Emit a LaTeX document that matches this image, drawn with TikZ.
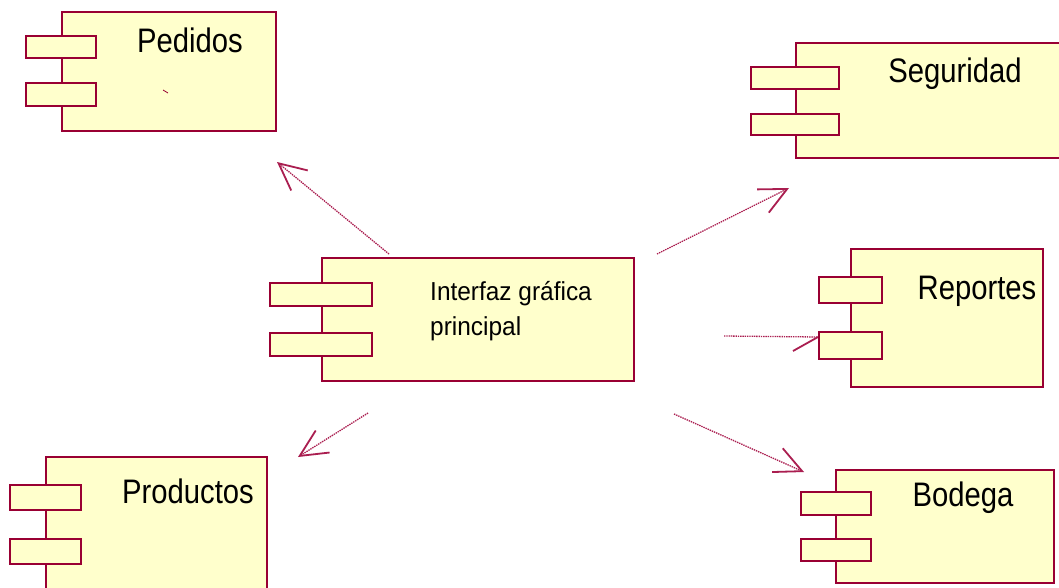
\documentclass[tikz,border=0pt]{standalone}
\usepackage{fontspec}
\setmainfont{Liberation Sans}
\usetikzlibrary{arrows.meta}
\definecolor{umlborder}{RGB}{153,0,51}
\definecolor{umlfill}{RGB}{255,255,204}
\definecolor{deplink}{RGB}{170,30,80}
\newcommand{\biglbl}[1]{\scalebox{0.86}[1]{\fontsize{34}{40}\selectfont #1}}
\newcommand{\midlbl}[1]{\scalebox{0.94}[1]{\fontsize{26}{35}\selectfont #1}}
\begin{document}
\begin{tikzpicture}[x=1pt,y=-1pt,
  compbox/.style={draw=umlborder,fill=umlfill,line width=2.2pt,inner sep=0pt,outer sep=0pt,rectangle},
  port/.style={compbox,line width=2pt},
  lbl/.style={inner sep=0pt,anchor=base},
  dep/.style={draw=deplink,line width=1.3pt,dash pattern=on 1.4pt off 0.9pt,
     -{Straight Barb[length=27pt,width=26pt,line width=1.8pt]}},
  barb/.style={draw=deplink,line width=1.8pt}]
\useasboundingbox (0,0) rectangle (1059,587);
\fill[white] (0,0) rectangle (1059,587);

% connector end points
\coordinate (a1s) at (389,254); \coordinate (a1e) at (277,162);
\coordinate (a2s) at (657,254); \coordinate (a2e) at (789,188);
\coordinate (a3s) at (724,336); \coordinate (a3e) at (818,337);
\coordinate (a3b) at (793,351);
\coordinate (a4s) at (368,413); \coordinate (a4e) at (298,457);
\coordinate (a5s) at (674,414); \coordinate (a5e) at (804,472);

\draw[dep] (a1s) -- (a1e);
\draw[dep] (a2s) -- (a2e);
\draw[draw=deplink,line width=1.3pt,dash pattern=on 1.4pt off 0.9pt] (a3s) -- (a3e);
\draw[barb] (a3e) -- (a3b);
\draw[dep] (a4s) -- (a4e);
\draw[dep] (a5s) -- (a5e);

% Pedidos
\node[compbox,minimum width=214pt,minimum height=119pt] (ped) at (169,71.5) {};
\node[port,minimum width=70pt,minimum height=22pt] (pedp1) at (61,47) {};
\node[port,minimum width=70pt,minimum height=23pt] (pedp2) at (61,94.5) {};
\node[lbl] (pedt) at (190,52) {\biglbl{Pedidos}};
\coordinate (tick1) at (163,90); \coordinate (tick2) at (168,93);
\draw[umlborder,line width=0.8pt] (tick1) -- (tick2);

% Seguridad
\node[compbox,minimum width=279pt,minimum height=115pt] (seg) at (935.5,100.5) {};
\node[port,minimum width=88pt,minimum height=22pt] (segp1) at (795,78) {};
\node[port,minimum width=88pt,minimum height=21pt] (segp2) at (795,124.5) {};
\node[lbl] (segt) at (955,82) {\biglbl{Seguridad}};

% Reportes
\node[compbox,minimum width=192pt,minimum height=138pt] (rep) at (947,318) {};
\node[port,minimum width=63pt,minimum height=26pt] (repp1) at (850.5,290) {};
\node[port,minimum width=63pt,minimum height=27pt] (repp2) at (850.5,345.5) {};
\node[lbl] (rept) at (977,299) {\biglbl{Reportes}};

% Interfaz grafica principal
\node[compbox,minimum width=312pt,minimum height=123pt] (gui) at (478,319.5) {};
\node[port,minimum width=102pt,minimum height=23pt] (guip1) at (321,294.5) {};
\node[port,minimum width=102pt,minimum height=23pt] (guip2) at (321,344.5) {};
\node[inner sep=0pt,anchor=base west] (guit1) at (430,300.5) {\midlbl{Interfaz gráfica}};
\node[inner sep=0pt,anchor=base west] (guit2) at (430,335.5) {\midlbl{principal}};

% Productos
\node[compbox,minimum width=221pt,minimum height=143pt] (pro) at (156.5,528.5) {};
\node[port,minimum width=71pt,minimum height=25pt] (prop1) at (45.5,497.5) {};
\node[port,minimum width=71pt,minimum height=25pt] (prop2) at (45.5,551.5) {};
\node[lbl] (prot) at (188,503) {\biglbl{Productos}};

% Bodega
\node[compbox,minimum width=218pt,minimum height=113pt] (bod) at (945,526.5) {};
\node[port,minimum width=70pt,minimum height=23pt] (bodp1) at (836,503.5) {};
\node[port,minimum width=70pt,minimum height=22pt] (bodp2) at (836,550) {};
\node[lbl] (bodt) at (963,506) {\biglbl{Bodega}};
\end{tikzpicture}
\end{document}
